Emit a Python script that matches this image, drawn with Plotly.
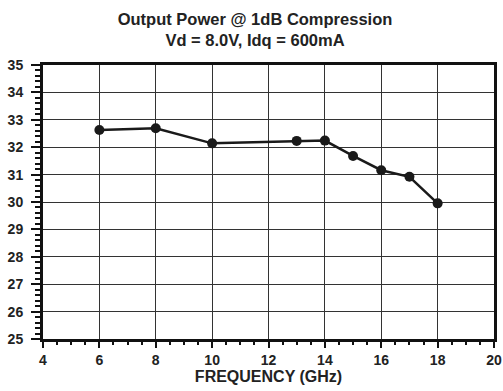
import plotly.graph_objects as go

freq_ghz = [6, 8, 10, 13, 14, 15, 16, 17, 18]
pout_dbm = [32.63, 32.69, 32.14, 32.23, 32.24, 31.68, 31.16, 30.92, 29.95]

x_ticks = [4, 6, 8, 10, 12, 14, 16, 18, 20]
y_ticks = list(range(25, 36))

title_text = "Output Power @ 1dB Compression<br>Vd = 8.0V, Idq = 600mA"
x_title = "FREQUENCY (GHz)"

font_family = "Liberation Sans, Arial, Helvetica, sans-serif"

fig = go.Figure()
fig.add_trace(go.Scatter(
    x=freq_ghz, y=pout_dbm, mode="lines+markers",
    line=dict(color="#1a1a1a", width=2.5),
    marker=dict(color="#1a1a1a", size=10),
    showlegend=False,
))

axis_common = dict(
    showline=True, linecolor="#111", linewidth=3, mirror=True,
    showgrid=True, gridcolor="#333", gridwidth=1,
    ticks="outside", tickcolor="#111", tickwidth=1.5,
    zeroline=False, automargin=False,
    tickfont=dict(family=font_family, size=14, color="#222", weight="bold"),
)

fig.update_layout(
    width=503, height=391,
    margin=dict(l=43, r=9, t=65, b=52),
    paper_bgcolor="white", plot_bgcolor="white",
    title=dict(
        text=title_text, x=0.507, xref="container", xanchor="center",
        y=1 - 25 / 391, yref="container", yanchor="top",
        font=dict(family=font_family, size=16.5, color="#222", weight="bold"),
        automargin=False,
    ),
    xaxis=dict(
        range=[4, 20], tickvals=x_ticks, ticktext=[str(v) for v in x_ticks],
        ticklen=6,
        minor=dict(dtick=0.5, ticks="outside", ticklen=3, tickcolor="#111", showgrid=False),
        title=dict(text=x_title, standoff=2,
                   font=dict(family=font_family, size=16, color="#222", weight="bold")),
        **axis_common,
    ),
    yaxis=dict(
        range=[25, 35], tickvals=y_ticks, ticktext=[str(v) for v in y_ticks],
        ticklen=9, ticklabelstandoff=5,
        minor=dict(dtick=0.2, ticks="outside", ticklen=5, tickcolor="#111", showgrid=False),
        **axis_common,
    ),
)

fig.write_html(
    "out.html",
    config={"displayModeBar": False},
    post_script="document.body.style.margin='0';document.body.style.overflow='hidden';",
)
